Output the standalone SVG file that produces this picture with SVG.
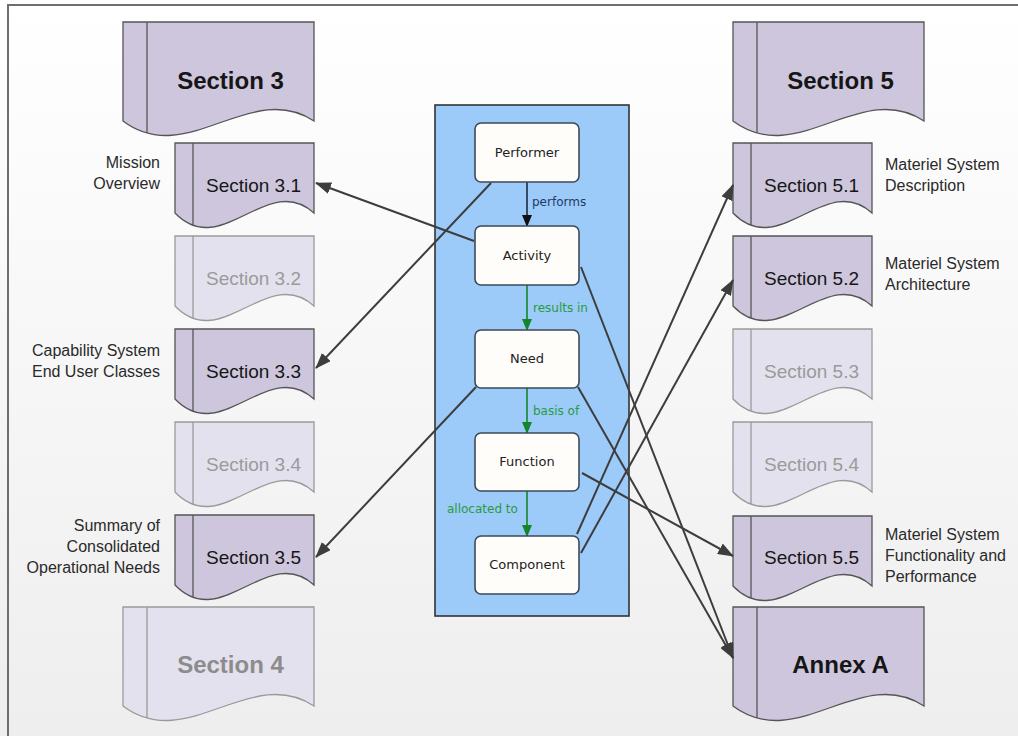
<svg xmlns="http://www.w3.org/2000/svg" width="1018" height="736" viewBox="0 0 1018 736">
  <defs>
    <linearGradient id="bg" x1="0" y1="0" x2="0" y2="1">
      <stop offset="0" stop-color="#ffffff"/>
      <stop offset="1" stop-color="#eeeeee"/>
    </linearGradient>
    <!-- document shapes, drawn from their top-left corner -->
    <path id="docSmall" d="M0,0 H139 V70 C92.7,28 46.3,118 0,70 Z"/>
    <path id="docSmallBar" d="M18,0 V82"/>
    <path id="docBig" d="M0,0 H191 V99 C127.3,57 63.7,147 0,99 Z"/>
    <path id="docBigBar" d="M24,0 V111"/>
    <marker id="arrowRef" markerUnits="userSpaceOnUse" markerWidth="16" markerHeight="12" refX="15" refY="6" orient="auto">
      <path d="M0,0 L16,6 L0,12 Z" fill="#3d3d3d"/>
    </marker>
    <marker id="arrowDark" markerUnits="userSpaceOnUse" markerWidth="12" markerHeight="10" refX="11" refY="5" orient="auto">
      <path d="M0,0 L12,5 L0,10 Z" fill="#111111"/>
    </marker>
    <marker id="arrowGreen" markerUnits="userSpaceOnUse" markerWidth="12" markerHeight="10" refX="11" refY="5" orient="auto">
      <path d="M0,0 L12,5 L0,10 Z" fill="#14852a"/>
    </marker>
  </defs>
  <style>
    .doc { fill: #cdc6dc; stroke: #555555; stroke-width: 1.3; }
    .doc.faded { fill: #e4e1ee; stroke: #9a9a9a; }
    .docText { font-family: "Liberation Sans", Arial, sans-serif; font-size: 19px; fill: #161616; text-anchor: middle; }
    .docText.big { font-size: 24px; font-weight: bold; }
    .faded .docText { fill: #9a9a9a; }
    .note { font-family: "Liberation Sans", Arial, sans-serif; font-size: 16px; fill: #2a2a2a; }
    .note.left { text-anchor: end; }
    .concept rect { fill: #fffdfa; stroke: #3c4a58; stroke-width: 1.6; }
    .concept text { font-family: "DejaVu Sans", Verdana, sans-serif; font-size: 13px; fill: #222222; text-anchor: middle; }
    .rel { font-family: "DejaVu Sans", Verdana, sans-serif; font-size: 12px; }
    .link { fill: none; stroke: #3d3d3d; stroke-width: 2; marker-end: url(#arrowRef); }
  </style>

  <!-- background and frame -->
  <rect x="0" y="0" width="1018" height="736" fill="url(#bg)"/>
  <path d="M8,736 V5 H1018" fill="none" stroke="#6e6e6e" stroke-width="2"/>

  <!-- left column: Section 3 and Section 4 -->
  <g id="section-3" transform="translate(123,22)">
    <use href="#docBig" class="doc"/><use href="#docBigBar" class="doc"/>
    <text class="docText big" x="107.5" y="67">Section 3</text>
  </g>
  <g id="section-3-1" transform="translate(175,143)">
    <use href="#docSmall" class="doc"/><use href="#docSmallBar" class="doc"/>
    <text class="docText" x="78.5" y="49">Section 3.1</text>
  </g>
  <g id="section-3-2" class="faded" transform="translate(175,236)">
    <use href="#docSmall" class="doc faded"/><use href="#docSmallBar" class="doc faded"/>
    <text class="docText" x="78.5" y="49">Section 3.2</text>
  </g>
  <g id="section-3-3" transform="translate(175,329)">
    <use href="#docSmall" class="doc"/><use href="#docSmallBar" class="doc"/>
    <text class="docText" x="78.5" y="49">Section 3.3</text>
  </g>
  <g id="section-3-4" class="faded" transform="translate(175,422)">
    <use href="#docSmall" class="doc faded"/><use href="#docSmallBar" class="doc faded"/>
    <text class="docText" x="78.5" y="49">Section 3.4</text>
  </g>
  <g id="section-3-5" transform="translate(175,515)">
    <use href="#docSmall" class="doc"/><use href="#docSmallBar" class="doc"/>
    <text class="docText" x="78.5" y="49">Section 3.5</text>
  </g>
  <g id="section-4" class="faded" transform="translate(123,607)">
    <use href="#docBig" class="doc faded"/><use href="#docBigBar" class="doc faded"/>
    <text class="docText big" x="107.5" y="66" style="fill:#8c8c8c">Section 4</text>
  </g>

  <!-- left column captions -->
  <g id="notes-left">
    <text class="note left" x="160" y="168">Mission</text>
    <text class="note left" x="160" y="189">Overview</text>
    <text class="note left" x="160" y="356">Capability System</text>
    <text class="note left" x="160" y="377">End User Classes</text>
    <text class="note left" x="160" y="531">Summary of</text>
    <text class="note left" x="160" y="552">Consolidated</text>
    <text class="note left" x="160" y="573">Operational Needs</text>
  </g>

  <!-- right column: Section 5 and Annex A -->
  <g id="section-5" transform="translate(733,22)">
    <use href="#docBig" class="doc"/><use href="#docBigBar" class="doc"/>
    <text class="docText big" x="107.5" y="67">Section 5</text>
  </g>
  <g id="section-5-1" transform="translate(733,143)">
    <use href="#docSmall" class="doc"/><use href="#docSmallBar" class="doc"/>
    <text class="docText" x="78.5" y="49">Section 5.1</text>
  </g>
  <g id="section-5-2" transform="translate(733,236)">
    <use href="#docSmall" class="doc"/><use href="#docSmallBar" class="doc"/>
    <text class="docText" x="78.5" y="49">Section 5.2</text>
  </g>
  <g id="section-5-3" class="faded" transform="translate(733,329)">
    <use href="#docSmall" class="doc faded"/><use href="#docSmallBar" class="doc faded"/>
    <text class="docText" x="78.5" y="49">Section 5.3</text>
  </g>
  <g id="section-5-4" class="faded" transform="translate(733,422)">
    <use href="#docSmall" class="doc faded"/><use href="#docSmallBar" class="doc faded"/>
    <text class="docText" x="78.5" y="49">Section 5.4</text>
  </g>
  <g id="section-5-5" transform="translate(733,516)">
    <use href="#docSmall" class="doc"/><use href="#docSmallBar" class="doc"/>
    <text class="docText" x="78.5" y="48">Section 5.5</text>
  </g>
  <g id="annex-a" transform="translate(733,607)">
    <use href="#docBig" class="doc"/><use href="#docBigBar" class="doc"/>
    <text class="docText big" x="107.5" y="66">Annex A</text>
  </g>

  <!-- right column captions -->
  <g id="notes-right">
    <text class="note" x="885" y="170">Materiel System</text>
    <text class="note" x="885" y="191">Description</text>
    <text class="note" x="885" y="269">Materiel System</text>
    <text class="note" x="885" y="290">Architecture</text>
    <text class="note" x="885" y="540">Materiel System</text>
    <text class="note" x="885" y="561">Functionality and</text>
    <text class="note" x="885" y="582">Performance</text>
  </g>

  <!-- central concept model -->
  <g id="concept-panel">
    <rect x="435" y="105" width="194" height="511" fill="#9ccbfa" stroke="#333333" stroke-width="1.6"/>
  </g>

  <g id="concept-relations">
    <line x1="527" y1="182" x2="527" y2="226" stroke="#1a2a44" stroke-width="1.6" marker-end="url(#arrowDark)"/>
    <text class="rel" x="532" y="206" fill="#1f3a66">performs</text>
    <line x1="527" y1="285" x2="527" y2="330" stroke="#14852a" stroke-width="1.6" marker-end="url(#arrowGreen)"/>
    <text class="rel" x="533" y="312" fill="#2a9a3c">results in</text>
    <line x1="527" y1="388" x2="527" y2="433" stroke="#14852a" stroke-width="1.6" marker-end="url(#arrowGreen)"/>
    <text class="rel" x="533" y="415" fill="#2a9a3c">basis of</text>
    <line x1="527" y1="491" x2="527" y2="536" stroke="#14852a" stroke-width="1.6" marker-end="url(#arrowGreen)"/>
    <text class="rel" x="447" y="513" fill="#2a9a3c">allocated to</text>
  </g>

  <g id="performer" class="concept">
    <rect x="475" y="123" width="104" height="59" rx="6"/>
    <text x="527" y="157">Performer</text>
  </g>
  <g id="activity" class="concept">
    <rect x="475" y="226" width="104" height="59" rx="6"/>
    <text x="527" y="260">Activity</text>
  </g>
  <g id="need" class="concept">
    <rect x="475" y="330" width="104" height="58" rx="6"/>
    <text x="527" y="363">Need</text>
  </g>
  <g id="function" class="concept">
    <rect x="475" y="433" width="104" height="58" rx="6"/>
    <text x="527" y="466">Function</text>
  </g>
  <g id="component" class="concept">
    <rect x="475" y="536" width="104" height="58" rx="6"/>
    <text x="527" y="569">Component</text>
  </g>

  <!-- traceability connectors from concepts to document sections -->
  <g id="connectors">
    <line class="link" x1="474" y1="241" x2="316" y2="183"/>
    <line class="link" x1="491" y1="183" x2="316" y2="368"/>
    <line class="link" x1="476" y1="387" x2="316" y2="557"/>
    <line class="link" x1="581" y1="267" x2="733" y2="658"/>
    <line class="link" x1="578" y1="387" x2="733" y2="658"/>
    <line class="link" x1="582" y1="473" x2="733" y2="556"/>
    <line class="link" x1="577" y1="534" x2="733" y2="185"/>
    <line class="link" x1="581" y1="553" x2="733" y2="280"/>
  </g>
</svg>
